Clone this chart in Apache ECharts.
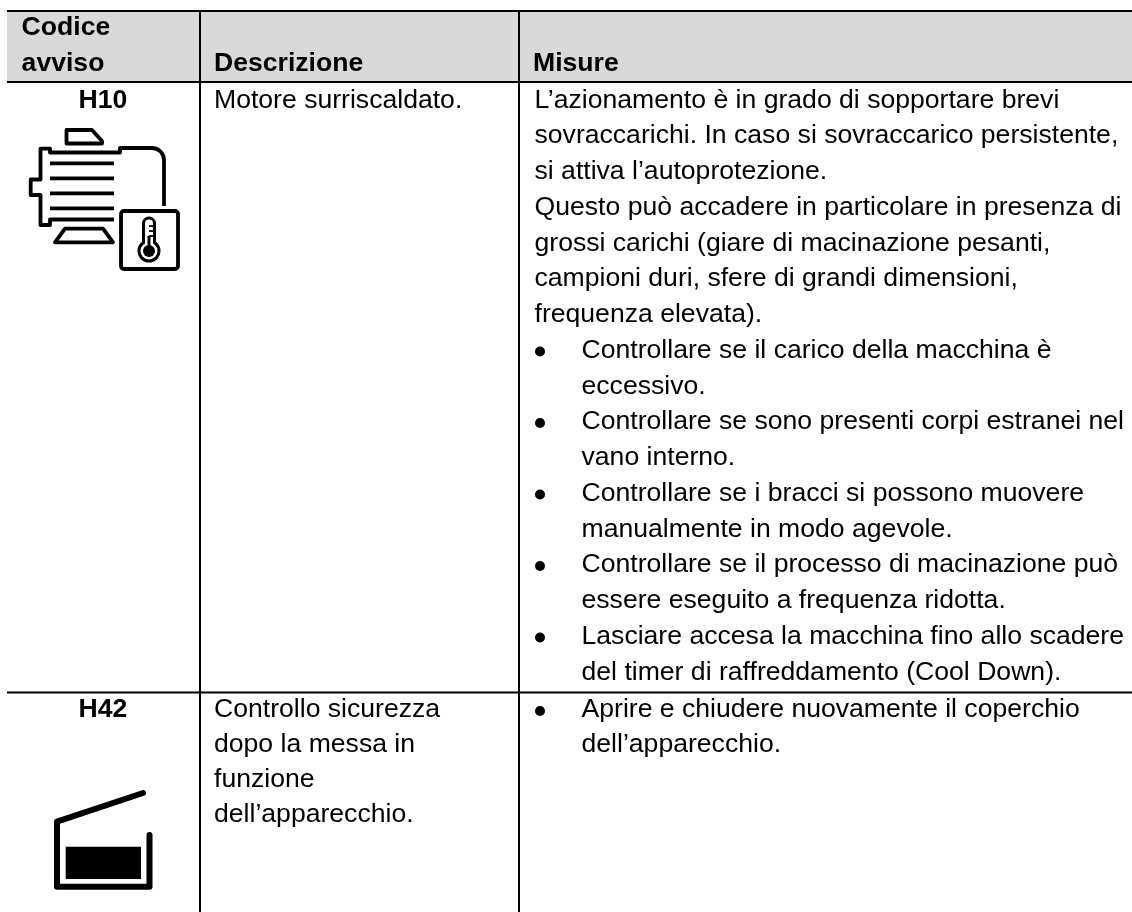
<!DOCTYPE html>
<html>
<head>
<meta charset="utf-8">
<style>html,body{margin:0;padding:0;background:#fff}#main{width:1132px;height:912px}</style>
<script src="https://cdn.jsdelivr.net/npm/echarts@6/dist/echarts.min.js"></script>
</head>
<body>
<div id="main"></div>
<script>
// testi della tabella
var headerCodice = ['Codice', 'avviso'];
var headerDescrizione = 'Descrizione';
var headerMisure = 'Misure';
var codes = ['H10', 'H42'];
var descH10 = ['Motore surriscaldato.'];
var descH42 = ['Controllo sicurezza', 'dopo la messa in', 'funzione', 'dell\u2019apparecchio.'];
var misureH10 = [
  'L\u2019azionamento \u00e8 in grado di sopportare brevi',
  'sovraccarichi. In caso si sovraccarico persistente,',
  'si attiva l\u2019autoprotezione.',
  'Questo pu\u00f2 accadere in particolare in presenza di',
  'grossi carichi (giare di macinazione pesanti,',
  'campioni duri, sfere di grandi dimensioni,',
  'frequenza elevata).'
];
var bulletsH10 = [
  ['Controllare se il carico della macchina \u00e8', 'eccessivo.'],
  ['Controllare se sono presenti corpi estranei nel', 'vano interno.'],
  ['Controllare se i bracci si possono muovere', 'manualmente in modo agevole.'],
  ['Controllare se il processo di macinazione pu\u00f2', 'essere eseguito a frequenza ridotta.'],
  ['Lasciare accesa la macchina fino allo scadere', 'del timer di raffreddamento (Cool Down).']
];
var bulletsH42 = [
  ['Aprire e chiudere nuovamente il coperchio', 'dell\u2019apparecchio.']
];

var FONT = '"Liberation Sans", Arial, sans-serif';
var SIZE = 26.6, PITCH = 35.75, PITCH2 = 35;
var els = [];

function txt(x, y, s, bold, align) {
  els.push({
    type: 'text', x: x, y: y,
    style: {
      text: s, fill: '#000', font: (bold ? 'bold ' : '') + SIZE + 'px ' + FONT,
      textAlign: align || 'left', textVerticalAlign: 'middle'
    }
  });
}
function hline(y, x0) {
  els.push({ type: 'line', shape: { x1: x0, y1: y, x2: 1132, y2: y }, style: { stroke: '#000', lineWidth: 2 } });
}
function vline(x) {
  els.push({ type: 'line', shape: { x1: x, y1: 10, x2: x, y2: 912 }, style: { stroke: '#000', lineWidth: 2 } });
}
function poly(pts, w, cap) {
  els.push({ type: 'polyline', shape: { points: pts }, style: { fill: null, stroke: '#000', lineWidth: w, lineCap: cap || 'butt', lineJoin: 'round' } });
}
function closed(pts, w, f) {
  els.push({ type: 'polygon', shape: { points: pts }, style: { fill: f || null, stroke: w ? '#000' : null, lineWidth: w, lineJoin: 'round' } });
}

// griglia
els.push({ type: 'rect', shape: { x: 7, y: 11, width: 1125, height: 71 }, style: { fill: '#d9d9d9' } });
hline(11, 7); hline(82, 7); hline(692.5, 7);
vline(200); vline(519);

// intestazione
txt(21.6, 28, headerCodice[0], true);
txt(21.6, 63.5, headerCodice[1], true);
txt(214, 63.5, headerDescrizione, true);
txt(533, 63.5, headerMisure, true);

// righe
txt(103, 100.2, codes[0], true, 'center');
txt(103, 710, codes[1], true, 'center');
descH10.forEach(function (s, i) { txt(214, 100.2 + i * PITCH, s); });
descH42.forEach(function (s, i) { txt(214, 710 + i * PITCH2, s); });

var y = 100.2;
misureH10.forEach(function (s) { txt(534.5, y, s); y += PITCH; });
function bullets(list, y0, pitch) {
  var yy = y0;
  list.forEach(function (item) {
    els.push({ type: 'circle', shape: { cx: 540, cy: yy + 1, r: 5 }, style: { fill: '#000' } });
    item.forEach(function (s) { txt(581.5, yy, s); yy += pitch; });
  });
}
bullets(bulletsH10, y, PITCH);
bullets(bulletsH42, 710, PITCH2);

// icona motore
closed([[66.5, 130], [92, 130], [102, 141], [102, 143.5], [66.5, 143.5]], 3.8);
poly([[114, 219.5], [50, 219.5], [50, 225], [40.5, 225], [40.5, 195], [30.7, 195], [30.7, 179.5], [40.5, 179.5], [40.5, 148.7], [50, 148.7], [50, 152.5], [120, 152.5], [120, 148], [152, 148]], 3.8);
els.push({ type: 'arc', shape: { cx: 152, cy: 160, r: 12, startAngle: -Math.PI / 2, endAngle: 0, clockwise: true }, style: { fill: null, stroke: '#000', lineWidth: 3.8 } });
poly([[164, 160], [164, 206]], 3.8);
[163.3, 178.3, 193.3, 208.3].forEach(function (fy) { poly([[50, fy], [114, fy]], 3.8); });
closed([[55, 242.3], [65, 228.7], [103, 228.7], [113, 242.3]], 3.8);

// termometro
els.push({ type: 'rect', shape: { x: 121, y: 211, width: 57, height: 58, r: 3 }, style: { fill: '#fff', stroke: '#000', lineWidth: 3.8 } });
els.push({ type: 'rect', shape: { x: 143.5, y: 218, width: 11, height: 27, r: [5.5, 5.5, 0, 0] }, style: { fill: '#fff', stroke: '#000', lineWidth: 3 } });
els.push({ type: 'circle', shape: { cx: 149, cy: 251, r: 10 }, style: { fill: '#fff', stroke: '#000', lineWidth: 3 } });
els.push({ type: 'rect', shape: { x: 145, y: 238, width: 8, height: 6 }, style: { fill: '#fff' } });
els.push({ type: 'circle', shape: { cx: 149, cy: 251, r: 6 }, style: { fill: '#000' } });
poly([[149, 236], [149, 248]], 3);
[226, 231, 236].forEach(function (ty) { poly([[149, ty], [154, ty]], 1.8); });

// icona coperchio
poly([[143, 793], [57, 821.7], [57, 886.7], [149.5, 886.7], [149.5, 835]], 6, 'round');
closed([[65.7, 846.7], [141, 846.7], [141, 879], [65.7, 879]], 0, '#000');

var chart = echarts.init(document.getElementById('main'));
chart.setOption({
  backgroundColor: '#fff',
  animation: false,
  graphic: { elements: els }
});
</script>
</body>
</html>
